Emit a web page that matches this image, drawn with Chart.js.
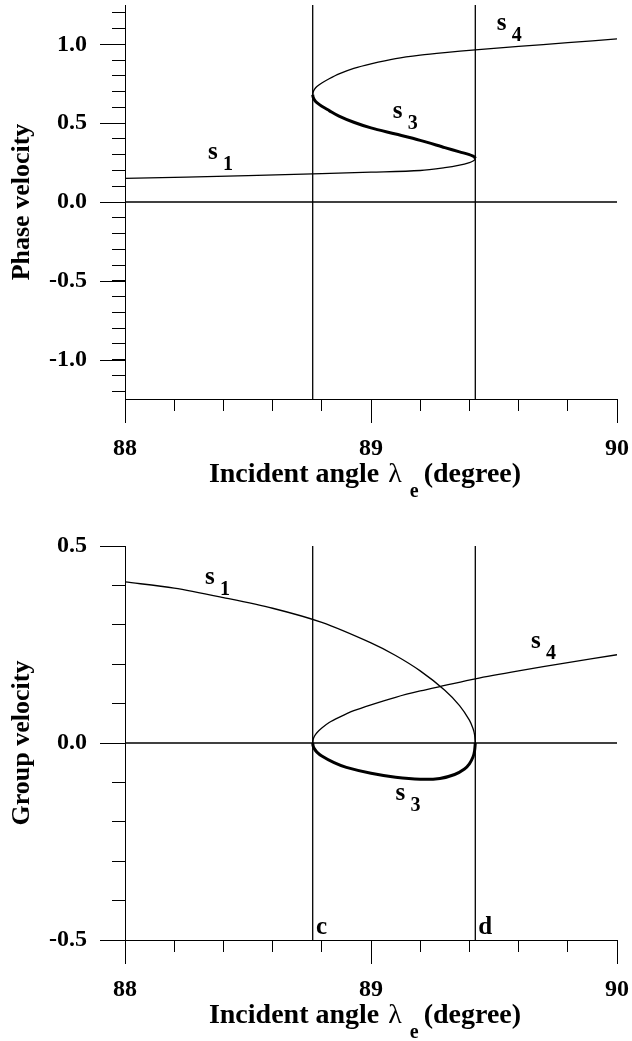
<!DOCTYPE html>
<html>
<head>
<meta charset="utf-8">
<script src="https://cdn.jsdelivr.net/npm/chart.js@4.4.1/dist/chart.umd.min.js"></script>
<style>
  html, body { margin: 0; padding: 0; background: #fff; }
  body { width: 632px; height: 1041px; overflow: hidden; position: relative; }
  canvas { position: absolute; left: 0; }
  #phase { top: 0; }
  #group { top: 500px; }
</style>
</head>
<body>
<canvas id="phase" width="632" height="500"></canvas>
<canvas id="group" width="632" height="541"></canvas>
<script>
// incident angle axis (degree)
const xTicks = [88, 88.2, 88.4, 88.6, 88.8, 89, 89.2, 89.4, 89.6, 89.8, 90];
const xMajor = [88, 89, 90];

// the two fold angles (lines c and d)
const foldC = 88.763;
const foldD = 89.424;

// phase velocity panel
const phaseTicks = [-1.2, -1.1, -1.0, -0.9, -0.8, -0.7, -0.6, -0.5, -0.4, -0.3, -0.2, -0.1, 0,
  0.1, 0.2, 0.3, 0.4, 0.5, 0.6, 0.7, 0.8, 0.9, 1.0, 1.1, 1.2];
const phaseMajor = [-1.0, -0.5, 0, 0.5, 1.0];

const phaseS1X = [88.0, 88.5, 88.8, 89.0, 89.2, 89.3, 89.36, 89.40, 89.415, 89.421, 89.424];
const phaseS1Y = [0.150, 0.167, 0.180, 0.189, 0.200, 0.218, 0.234, 0.250, 0.260, 0.267, 0.276];
const phaseS3X = [89.424, 89.421, 89.415, 89.40, 89.36, 89.3, 89.2, 89.1, 89.0, 88.93, 88.87, 88.83, 88.80, 88.78, 88.770, 88.765, 88.763];
const phaseS3Y = [0.276, 0.285, 0.291, 0.301, 0.318, 0.345, 0.391, 0.431, 0.470, 0.506, 0.545, 0.580, 0.607, 0.630, 0.648, 0.664, 0.680];
const phaseS4X = [88.763, 88.765, 88.770, 88.78, 88.80, 88.83, 88.87, 88.93, 89.0, 89.1, 89.2, 89.3, 89.424, 89.6, 89.8, 90.0];
const phaseS4Y = [0.680, 0.697, 0.714, 0.733, 0.755, 0.782, 0.813, 0.848, 0.877, 0.910, 0.932, 0.948, 0.965, 0.987, 1.011, 1.035];

// group velocity panel
const groupTicks = [-0.5, -0.4, -0.3, -0.2, -0.1, 0, 0.1, 0.2, 0.3, 0.4, 0.5];
const groupMajor = [-0.5, 0, 0.5];

const groupS1X = [88.0, 88.2, 88.4, 88.6, 88.8, 89.0, 89.1, 89.2, 89.3, 89.36, 89.40, 89.415, 89.421, 89.424];
const groupS1Y = [0.409, 0.393, 0.369, 0.342, 0.306, 0.254, 0.222, 0.183, 0.134, 0.095, 0.058, 0.036, 0.021, 0.0];
const groupS3X = [88.763, 88.765, 88.770, 88.78, 88.80, 88.85, 88.9, 89.0, 89.1, 89.2, 89.28, 89.34, 89.38, 89.40, 89.415, 89.421, 89.424];
const groupS3Y = [0, -0.008, -0.015, -0.023, -0.033, -0.050, -0.062, -0.077, -0.087, -0.092, -0.090, -0.080, -0.066, -0.053, -0.035, -0.020, 0];
const groupS4X = [88.763, 88.765, 88.770, 88.78, 88.80, 88.83, 88.87, 88.93, 89.0, 89.1, 89.2, 89.3, 89.424, 89.6, 89.8, 90.0];
const groupS4Y = [0, 0.009, 0.017, 0.026, 0.038, 0.052, 0.065, 0.082, 0.097, 0.116, 0.132, 0.146, 0.163, 0.183, 0.204, 0.224];

const SERIF = '"Liberation Serif", "Times New Roman", serif';
const tickFont = { family: SERIF, weight: 'bold', size: 24 };

const pts = (xs, ys) => xs.map((x, i) => ({ x, y: ys[i] }));

function curve(data, width) {
  return { data, showLine: true, borderColor: '#000', borderWidth: width, pointRadius: 0, tension: 0.3, fill: false };
}

function straight(data) {
  return { data, showLine: true, borderColor: '#000', borderWidth: 1.3, pointRadius: 0, tension: 0, fill: false };
}

// long ticks, axis titles and curve names
function makeDecor(cfg) {
  return {
    id: 'decor',
    afterDraw(chart) {
      const ctx = chart.ctx;
      const xs = chart.scales.x, ys = chart.scales.y;
      const area = chart.chartArea;
      ctx.save();
      ctx.strokeStyle = '#000';
      ctx.lineWidth = 1;
      ctx.beginPath();
      xMajor.forEach(v => {
        const p = Math.round(xs.getPixelForValue(v)) + 0.5;
        ctx.moveTo(p, area.bottom);
        ctx.lineTo(p, area.bottom + 24);
      });
      cfg.yMajor.forEach(v => {
        const p = Math.round(ys.getPixelForValue(v)) + 0.5;
        ctx.moveTo(area.left - 25, p);
        ctx.lineTo(area.left, p);
      });
      ctx.stroke();

      ctx.fillStyle = '#000';
      ctx.textBaseline = 'alphabetic';
      ctx.textAlign = 'left';
      cfg.notes.forEach(n => {
        const px = xs.getPixelForValue(n.x), py = ys.getPixelForValue(n.y);
        ctx.font = 'bold 25px ' + SERIF;
        ctx.fillText(n.text, px, py);
        if (n.sub) {
          ctx.font = 'bold 20px ' + SERIF;
          ctx.fillText(n.sub, px + 15, py + 11);
        }
      });

      // y title
      ctx.save();
      ctx.translate(22, (area.top + area.bottom) / 2);
      ctx.rotate(-Math.PI / 2);
      ctx.textAlign = 'center';
      ctx.textBaseline = 'middle';
      ctx.font = 'bold 26px ' + SERIF;
      ctx.fillText(cfg.yTitle, 0, 0);
      ctx.restore();

      // x title with subscript e
      const parts = [
        { t: 'Incident angle ', f: 'bold 28px ' + SERIF, dy: 0, gap: 2 },
        { t: 'λ', f: '28px ' + SERIF, dy: 0, gap: 8 },
        { t: 'e', f: 'bold 20px ' + SERIF, dy: 15, gap: 5 },
        { t: '(degree)', f: 'bold 28px ' + SERIF, dy: 0, gap: 0 }
      ];
      let total = 0;
      parts.forEach(p => { ctx.font = p.f; p.w = ctx.measureText(p.t).width; total += p.w + p.gap; });
      let x = (area.left + area.right) / 2 - 6 - total / 2;
      const base = area.bottom + 83;
      parts.forEach(p => {
        ctx.font = p.f;
        ctx.fillText(p.t, x, base + p.dy);
        x += p.w + p.gap;
      });
      ctx.restore();
    }
  };
}

function makeChart(id, cfg) {
  return new Chart(document.getElementById(id), {
    type: 'scatter',
    data: { datasets: cfg.datasets },
    options: {
      responsive: false,
      animation: false,
      events: [],
      layout: { padding: { left: 0, right: 15, top: cfg.top, bottom: 0 } },
      plugins: { legend: { display: false }, tooltip: { enabled: false } },
      scales: {
        x: {
          type: 'linear', position: 'bottom', min: 88, max: 90,
          afterBuildTicks: s => { s.ticks = xTicks.map(v => ({ value: v })); },
          afterFit: s => { s.height = cfg.xHeight; s.paddingLeft = 0; s.paddingRight = 0; },
          grid: { drawOnChartArea: false, drawTicks: true, tickLength: 12, color: '#000', lineWidth: 1 },
          border: { display: true, color: '#000', width: 1 },
          ticks: {
            autoSkip: false, maxRotation: 0, padding: 23, color: '#000', font: tickFont,
            callback: v => xMajor.includes(v) ? String(v) : ''
          }
        },
        y: {
          type: 'linear', position: 'left', min: cfg.yMin, max: cfg.yMax,
          afterBuildTicks: s => { s.ticks = cfg.yTicks.map(v => ({ value: v })); },
          afterFit: s => { s.width = 125; s.paddingTop = 0; s.paddingBottom = 0; },
          grid: { drawOnChartArea: false, drawTicks: true, tickLength: 13, color: '#000', lineWidth: 1 },
          border: { display: true, color: '#000', width: 1 },
          ticks: {
            autoSkip: false, padding: 25, color: '#000', font: tickFont,
            callback: v => cfg.yMajor.includes(v) ? v.toFixed(1) : ''
          }
        }
      }
    },
    plugins: [makeDecor(cfg)]
  });
}

makeChart('phase', {
  top: 5, xHeight: 101,
  yMin: -1.25, yMax: 1.25, yTicks: phaseTicks, yMajor: phaseMajor,
  yTitle: 'Phase velocity',
  datasets: [
    straight([{ x: 88, y: 0 }, { x: 90, y: 0 }]),
    straight([{ x: foldC, y: -1.25 }, { x: foldC, y: 1.25 }]),
    straight([{ x: foldD, y: -1.25 }, { x: foldD, y: 1.25 }]),
    curve(pts(phaseS1X, phaseS1Y), 1.3),
    curve(pts(phaseS3X, phaseS3Y), 3),
    curve(pts(phaseS4X, phaseS4Y), 1.3)
  ],
  notes: [
    { text: 's', sub: '1', x: 88.337, y: 0.274 },
    { text: 's', sub: '3', x: 89.088, y: 0.533 },
    { text: 's', sub: '4', x: 89.511, y: 1.091 }
  ]
});

makeChart('group', {
  top: 46, xHeight: 101,
  yMin: -0.5, yMax: 0.5, yTicks: groupTicks, yMajor: groupMajor,
  yTitle: 'Group velocity',
  datasets: [
    straight([{ x: 88, y: 0 }, { x: 90, y: 0 }]),
    straight([{ x: foldC, y: -0.5 }, { x: foldC, y: 0.5 }]),
    straight([{ x: foldD, y: -0.5 }, { x: foldD, y: 0.5 }]),
    curve(pts(groupS1X, groupS1Y), 1.3),
    curve(pts(groupS3X, groupS3Y), 3),
    curve(pts(groupS4X, groupS4Y), 1.3)
  ],
  notes: [
    { text: 's', sub: '1', x: 88.325, y: 0.404 },
    { text: 's', sub: '4', x: 89.650, y: 0.242 },
    { text: 's', sub: '3', x: 89.100, y: -0.145 },
    { text: 'c', x: 88.776, y: -0.485 },
    { text: 'd', x: 89.436, y: -0.485 }
  ]
});
</script>
</body>
</html>
